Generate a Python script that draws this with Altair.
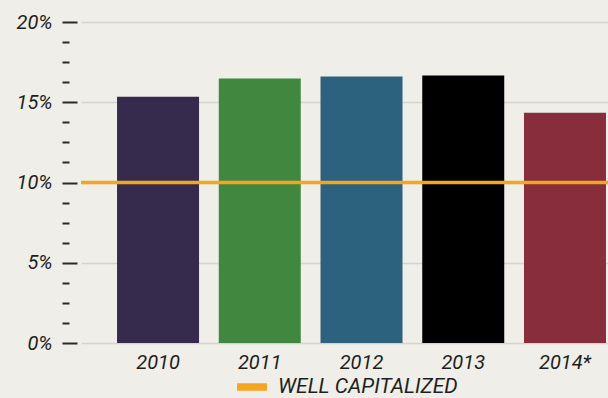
import altair as alt
import pandas as pd

years = ["2010", "2011", "2012", "2013", "2014*"]
ratios = [15.34, 16.48, 16.60, 16.66, 14.34]
bar_colors = ["#372b4d", "#418740", "#2d627f", "#000000", "#872d3b"]
threshold_label = ["WELL CAPITALIZED"]
threshold_value = [10]
y_ticks = [i * 1.25 for i in range(17)]

bars_df = pd.DataFrame({"year": years, "ratio": ratios})
rule_df = pd.DataFrame({"name": threshold_label, "ratio": threshold_value})

FONT = "Roboto"
TXT = "#1e1e1e"
MINOR = "datum.value % 5 != 0"

y_axis = alt.Axis(
    values=y_ticks,
    title=None,
    offset=4,
    domain=False,
    tickSize=15,
    tickWidth=2,
    tickColor="#2a2a2a",
    tickDash={"condition": {"test": MINOR, "value": [7, 8]}, "value": [1, 0]},
    tickDashOffset={"condition": {"test": MINOR, "value": 7}, "value": 0},
    grid=True,
    gridColor="#d4d3cc",
    gridWidth=1.5,
    gridOpacity={"condition": {"test": MINOR, "value": 0}, "value": 1},
    labelExpr="datum.value % 5 == 0 ? datum.value + '%' : ''",
    labelFont=FONT,
    labelFontSize=20,
    labelFontStyle="italic",
    labelColor=TXT,
    labelPadding=10,
)
y_scale = alt.Scale(domain=[0, 20], nice=False)

bars = alt.Chart(bars_df).mark_bar(cornerRadius=0).encode(
    x=alt.X(
        "year:N",
        sort=years,
        scale=alt.Scale(paddingInner=0.194, paddingOuter=0.187, align=0.947),
        axis=alt.Axis(
            title=None,
            labelAngle=0,
            ticks=False,
            domain=False,
            labelFont=FONT,
            labelFontSize=20,
            labelFontStyle="italic",
            labelColor=TXT,
            labelPadding=9,
        ),
    ),
    y=alt.Y("ratio:Q", scale=y_scale, axis=y_axis),
    color=alt.Color("year:N", scale=alt.Scale(domain=years, range=bar_colors), legend=None),
)

rule = alt.Chart(rule_df).mark_rule(strokeWidth=3.5).encode(
    y=alt.Y("ratio:Q", scale=y_scale, axis=y_axis),
    color=alt.Color(
        "name:N",
        scale=alt.Scale(domain=threshold_label, range=["#f4a620"]),
        legend=alt.Legend(
            title=None,
            orient="none",
            legendX=156,
            legendY=350,
            symbolType="M-1,-0.25H1V0.25H-1Z",
            symbolSize=900,
            symbolStrokeWidth=0,
            symbolFillColor="#f4a620",
            symbolOpacity=1,
            labelFont=FONT,
            labelFontSize=21,
            labelFontStyle="italic",
            labelColor=TXT,
            labelOffset=11,
            labelLimit=0,
            padding=0,
        ),
    ),
)

chart = (
    alt.layer(bars, rule)
    .resolve_scale(color="independent")
    .properties(
        width=527,
        height=321,
        autosize=alt.AutoSizeParams(type="none"),
        padding={"left": 81, "top": 22, "right": 0, "bottom": 55},
        background="#efeee8",
    )
    .configure_view(stroke=None)
)

chart.save("out.html", embed_options={"renderer": "svg", "actions": False})
